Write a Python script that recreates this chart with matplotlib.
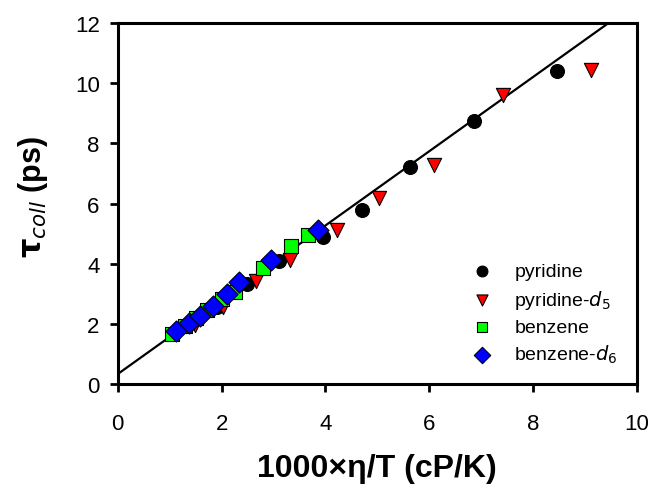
import matplotlib
matplotlib.use('Agg')
import matplotlib.pyplot as plt
import numpy as np

plt.rcParams['font.family'] = ['Liberation Sans', 'DejaVu Sans']

# values
pyr_x = [1.91, 2.48, 3.10, 3.95, 4.70, 5.63, 6.86, 8.46]
pyr_y = [2.57, 3.33, 4.10, 4.90, 5.77, 7.20, 8.73, 10.40]

pyrd_x = [1.48, 2.02, 2.66, 3.31, 4.22, 5.03, 6.09, 7.42, 9.11]
pyrd_y = [1.97, 2.57, 3.43, 4.13, 5.13, 6.20, 7.27, 9.60, 10.43]

benz_x = [1.04, 1.29, 1.50, 1.71, 2.00, 2.25, 2.79, 3.33, 3.66]
benz_y = [1.67, 1.93, 2.20, 2.47, 2.83, 3.05, 3.87, 4.60, 4.97]

benzd_x = [1.13, 1.37, 1.58, 1.83, 2.10, 2.33, 2.95, 3.85]
benzd_y = [1.77, 2.03, 2.27, 2.60, 3.00, 3.40, 4.13, 5.13]

fit_a = 0.33
fit_b = 1.235

fig = plt.figure(figsize=(6.54, 4.89), dpi=100)
ax = fig.add_axes([0.180, 0.2127, 0.794, 0.738])

xl = np.array([0, 10])
ax.plot(xl, fit_a + fit_b * xl, color='black', lw=1.6, zorder=1)

ax.scatter(pyr_x, pyr_y, s=100, marker='o', c='black', edgecolors='black', lw=0.8, label='pyridine', zorder=3)
ax.scatter(pyrd_x, pyrd_y, s=105, marker='v', c='#ff0000', edgecolors='black', lw=0.8, label='pyridine-$\\mathit{d}_5$', zorder=3)
ax.scatter(benz_x, benz_y, s=95, marker='s', c='#00ff00', edgecolors='black', lw=0.8, label='benzene', zorder=3)
ax.scatter(benzd_x, benzd_y, s=115, marker='D', c='#0000ff', edgecolors='black', lw=0.8, label='benzene-$\\mathit{d}_6$', zorder=3)

ax.set_xlim(0, 10)
ax.set_ylim(0, 12)
ax.set_xticks([0, 2, 4, 6, 8, 10])
ax.set_yticks([0, 2, 4, 6, 8, 10, 12])
ax.tick_params(axis='both', direction='out', length=6, width=2, labelsize=16)
ax.tick_params(axis='x', pad=15)
ax.tick_params(axis='y', pad=7)
for s in ax.spines.values():
    s.set_linewidth(2.2)

ax.set_xlabel('1000×η/T (cP/K)', fontsize=23, fontweight='bold')
ax.set_ylabel('$\\mathbf{\\tau_{\\mathit{coll}}}$ (ps)', fontsize=22, fontweight='bold')
ax.xaxis.set_label_coords(0.5, -0.19)
ax.yaxis.set_label_coords(-0.131, 0.52)

leg = ax.legend(loc='lower right', bbox_to_anchor=(0.978, 0.03), frameon=False, fontsize=14,
                markerscale=0.78, labelspacing=0.38, handlelength=1.5, handletextpad=0.9,
                borderaxespad=0)

fig.savefig('out.png', dpi=100)
